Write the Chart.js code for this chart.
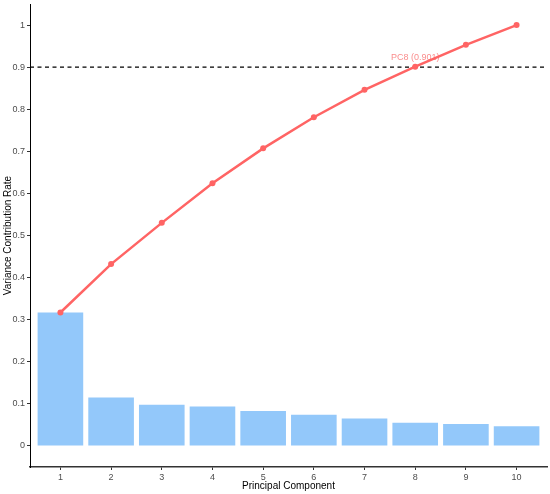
<!DOCTYPE html>
<html>
<head>
<meta charset="utf-8">
<script src="https://cdn.jsdelivr.net/npm/chart.js@4"></script>
<style>
html,body{margin:0;padding:0;background:#fff;}
#wrap{width:550px;height:494px;position:relative;}
</style>
</head>
<body>
<div id="wrap"><canvas id="c"></canvas></div>
<script>
const components = [1,2,3,4,5,6,7,8,9,10];
const variance = [0.317,0.115,0.098,0.094,0.083,0.074,0.065,0.055,0.052,0.047];
const cumulative = [0.317,0.432,0.530,0.624,0.707,0.781,0.846,0.901,0.953,1.000];
const threshold = 0.9;
const yTicks = [0,0.1,0.2,0.3,0.4,0.5,0.6,0.7,0.8,0.9,1];
const annotationLabel = 'PC8 (0.901)';
const annotationIndex = 7;

const FONT = 'Liberation Sans, Arial, sans-serif';
const labelPlugin = {
  id:'pcLabel',
  afterDatasetsDraw(chart){
    const {ctx, scales:{x,y}} = chart;
    const px = x.getPixelForValue(components[annotationIndex]);
    const py = y.getPixelForValue(cumulative[annotationIndex]);
    ctx.save();
    ctx.font = '9px ' + FONT;
    ctx.fillStyle = 'rgba(248,102,102,0.75)';
    ctx.textAlign = 'center';
    ctx.textBaseline = 'middle';
    ctx.fillText(annotationLabel, px, py - 9);
    ctx.restore();
  }
};

new Chart(document.getElementById('c'), {
  data:{
    datasets:[
      {type:'line', data:components.map((c,i)=>({x:c,y:cumulative[i]})), borderColor:'#FF6464', backgroundColor:'#FF6464',
       borderWidth:2.5, pointRadius:3, pointHoverRadius:3, pointBorderWidth:0, order:1, clip:false},
      {type:'line', data:[{x:0.4,y:threshold},{x:10.6,y:threshold}], borderColor:'#000', borderWidth:1.2, borderDash:[4,3.5],
       pointRadius:0, order:2},
      {type:'bar', data:components.map((c,i)=>({x:c,y:variance[i]})), backgroundColor:'#93C8FA', borderWidth:0,
       barPercentage:0.9, categoryPercentage:1, order:3}
    ]
  },
  options:{
    responsive:true, maintainAspectRatio:false, animation:false,
    layout:{padding:{top:4,right:2,left:0,bottom:0}},
    plugins:{legend:{display:false}, tooltip:{enabled:false}},
    scales:{
      x:{type:'linear', min:0.4, max:10.6, offset:false,
        afterBuildTicks(s){ s.ticks = components.map(v=>({value:v})); },
        afterFit(s){ s.height = 27; s.paddingLeft = 0; s.paddingRight = 0; },
        grid:{offset:false, drawOnChartArea:false, drawTicks:true, tickLength:3, color:'#333'},
        border:{display:true, color:'#333', width:1.5},
        ticks:{font:{family:FONT,size:9}, color:'#4D4D4D', padding:2, maxRotation:0,
          callback:v=>String(v)},
        title:{display:true, text:'Principal Component', font:{family:FONT,size:10}, color:'#000', padding:{top:0,bottom:2}}
      },
      y:{type:'linear', min:-0.05, max:1.05,
        afterBuildTicks(s){ s.ticks = yTicks.map(v=>({value:v})); },
        afterFit(s){ s.width = 30; s.paddingTop = 0; s.paddingBottom = 0; },
        grid:{drawOnChartArea:false, drawTicks:true, tickLength:3, color:'#333'},
        border:{display:true, color:'#000', width:1},
        ticks:{font:{family:FONT,size:9}, color:'#4D4D4D', padding:2,
          callback:v=>String(Math.round(v*10)/10)},
        title:{display:true, text:'Variance Contribution Rate', font:{family:FONT,size:10}, color:'#000', padding:{top:2,bottom:0}}
      }
    }
  },
  plugins:[labelPlugin]
});
</script>
</body>
</html>
